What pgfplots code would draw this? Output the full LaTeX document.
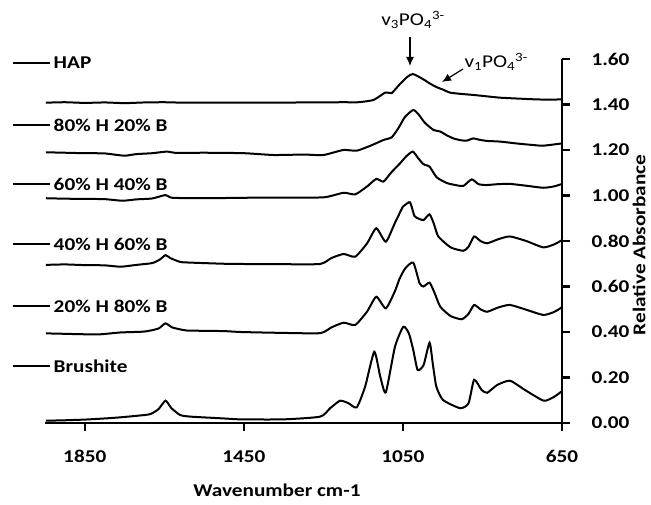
\documentclass[border=0pt]{standalone}
\usepackage{fontspec}
\setmainfont{Carlito}[FakeStretch=1.18]
\usepackage{pgfplots}
\pgfplotsset{compat=1.18}
\usetikzlibrary{arrows.meta}

\newcommand{\lab}{\fontsize{18}{21}\selectfont\bfseries}
\newcommand{\ann}{\fontsize{18}{21}\selectfont}

\begin{document}
\begin{tikzpicture}
\path[use as bounding box] (-45pt,-81pt) rectangle (606pt,423pt);
\begin{axis}[
  at={(0pt,0pt)}, anchor=south west,
  scale only axis, width=517pt, height=364pt,
  x dir=reverse, xmin=650, xmax=1950, ymin=0, ymax=1.6,
  axis x line=bottom, axis y line=right,
  axis line style={-, line width=2.8pt},
  xtick={650,1050,1450,1850}, xticklabels={650,1050,1450,1850},
  ytick={0,0.2,0.4,0.6,0.8,1.0,1.2,1.4,1.6},
  yticklabels={0.00,0.20,0.40,0.60,0.80,1.00,1.20,1.40,1.60},
  xtick align=outside, ytick align=outside, major tick length=8pt,
  xtick style={line width=2.4pt, black},
  ytick style={line width=2.4pt, black},
  tick label style={font=\lab},
  xticklabel style={yshift=-16pt},
  yticklabel style={xshift=18pt},
  clip=false,
  every axis plot post/.append style={black, solid, line width=2pt, smooth, tension=0.35, mark=none},
]
% HAP
\addplot table {
1948 1.408
1900 1.410
1850 1.407
1800 1.409
1750 1.406
1700 1.409
1650 1.410
1600 1.408
1500 1.408
1400 1.408
1300 1.409
1200 1.410
1162 1.410
1124 1.420
1095 1.452
1085 1.451
1078 1.450
1060 1.485
1040 1.520
1025 1.534
1000 1.512
980 1.490
965 1.476
950 1.466
931 1.452
900 1.446
873 1.442
840 1.436
806 1.430
760 1.426
723 1.423
680 1.421
650 1.423
};
% 80% H 20% B
\addplot table {
1948 1.190
1900 1.188
1850 1.186
1800 1.185
1751 1.175
1720 1.182
1680 1.186
1644 1.193
1620 1.187
1550 1.188
1450 1.186
1375 1.178
1300 1.180
1250 1.178
1200 1.200
1166 1.197
1130 1.220
1099 1.244
1078 1.256
1060 1.300
1045 1.345
1024 1.376
1010 1.355
995 1.320
973 1.288
956 1.281
940 1.265
923 1.251
905 1.243
890 1.241
873 1.251
860 1.246
840 1.240
806 1.237
760 1.228
723 1.222
697 1.219
650 1.229
};
% 60% H 40% B
\addplot table {
1948 0.988
1900 0.986
1850 0.985
1800 0.984
1755 0.977
1720 0.983
1680 0.987
1647 1.002
1630 0.990
1550 0.988
1450 0.990
1350 0.991
1249 0.992
1199 1.012
1170 1.005
1140 1.040
1117 1.073
1099 1.061
1080 1.100
1057 1.142
1040 1.175
1025 1.193
1012 1.165
1000 1.140
994 1.134
983 1.127
965 1.080
940 1.055
915 1.045
898 1.042
877 1.071
860 1.050
840 1.046
810 1.050
781 1.051
740 1.043
697 1.034
670 1.040
650 1.051
};
% 40% H 60% B
\addplot table {
1948 0.695
1900 0.697
1850 0.694
1800 0.693
1760 0.687
1720 0.695
1680 0.703
1660 0.720
1647 0.738
1635 0.725
1610 0.708
1584 0.705
1500 0.700
1458 0.699
1350 0.698
1258 0.699
1230 0.725
1199 0.743
1170 0.731
1140 0.790
1117 0.856
1093 0.797
1070 0.880
1050 0.951
1045 0.958
1032 0.970
1021 0.910
1010 0.898
998 0.892
983 0.917
972 0.875
961 0.820
930 0.772
898 0.757
885 0.775
871 0.820
855 0.800
838 0.790
810 0.808
781 0.820
740 0.800
697 0.772
670 0.785
650 0.804
};
% 20% H 80% B
\addplot table {
1948 0.394
1900 0.392
1850 0.390
1810 0.390
1760 0.398
1700 0.402
1665 0.415
1647 0.438
1630 0.420
1600 0.408
1584 0.406
1500 0.404
1458 0.400
1350 0.396
1258 0.395
1230 0.420
1199 0.441
1170 0.431
1140 0.490
1117 0.555
1093 0.504
1070 0.580
1058 0.636
1044 0.680
1024 0.705
1008 0.614
998 0.600
983 0.617
970 0.570
956 0.511
930 0.470
902 0.456
885 0.480
871 0.519
855 0.500
838 0.489
810 0.508
781 0.519
740 0.498
697 0.475
670 0.488
650 0.509
};
% Brushite
\addplot table {
1948 0.010
1900 0.012
1850 0.015
1800 0.020
1760 0.025
1700 0.035
1684 0.040
1665 0.060
1647 0.098
1632 0.065
1610 0.035
1584 0.028
1500 0.020
1458 0.016
1350 0.016
1258 0.028
1233 0.065
1208 0.098
1187 0.087
1166 0.069
1145 0.160
1122 0.313
1107 0.204
1093 0.135
1070 0.335
1049 0.423
1035 0.394
1024 0.321
1013 0.233
998 0.255
983 0.353
975 0.262
966 0.160
949 0.101
906 0.065
885 0.087
871 0.190
852 0.145
838 0.133
813 0.167
781 0.186
743 0.145
696 0.098
670 0.115
650 0.140
};
\end{axis}
% axis titles
\node[font=\lab, anchor=center] at (232pt,-67pt) {Wavenumber cm-1};
\node[font=\lab, anchor=center, rotate=90] at (594pt,178pt) {Relative Absorbance};
% series labels on the left
\draw[line width=1.5pt] (-32pt,360pt) -- (5pt,360pt) node[right, inner sep=3pt, font=\lab] {HAP};
\draw[line width=1.5pt] (-32pt,298pt) -- (5pt,298pt) node[right, inner sep=3pt, font=\lab] {80\% H 20\% B};
\draw[line width=1.5pt] (-32pt,239pt) -- (5pt,239pt) node[right, inner sep=3pt, font=\lab] {60\% H 40\% B};
\draw[line width=1.5pt] (-32pt,179pt) -- (5pt,179pt) node[right, inner sep=3pt, font=\lab] {40\% H 60\% B};
\draw[line width=1.5pt] (-32pt,117pt) -- (5pt,117pt) node[right, inner sep=3pt, font=\lab] {20\% H 80\% B};
\draw[line width=1.5pt] (-32pt,57pt) -- (5pt,57pt) node[right, inner sep=3pt, font=\lab] {Brushite};
% band annotations
\node[font=\ann, anchor=base] at (368pt,397pt) {v\textsubscript{3}PO\textsubscript{4}\textsuperscript{3-}};
\draw[line width=1.2pt, -{Latex[length=9pt,width=8pt]}] (365pt,386pt) -- (365pt,357pt);
\node[font=\ann, anchor=base west] at (416pt,355pt) {v\textsubscript{1}PO\textsubscript{4}\textsuperscript{3-}};
\draw[line width=1.2pt, -{Latex[length=9pt,width=8pt]}] (418pt,354pt) -- (397pt,341pt);
\end{tikzpicture}
\end{document}
